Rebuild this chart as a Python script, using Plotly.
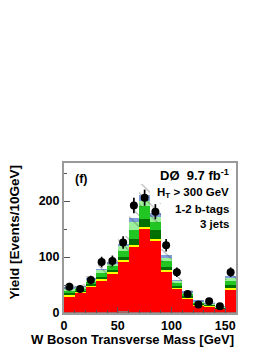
import plotly.graph_objects as go

# bin centres (W transverse mass, GeV), 10 GeV bins, last bin = overflow
bin_centers = [5, 15, 25, 35, 45, 55, 65, 75, 85, 95, 105, 115, 125, 135, 145, 155]
bin_width = 10

# stacked background components (events / bin)
multijet = [2, 2, 2, 2, 2, 4, 2, 2, 2, 2, 1, 1, 1, 1, 1, 2]
red_comp = [28, 34, 44.6, 56.6, 68.6, 87.5, 117.6, 149, 128, 71.5, 42.6, 24.7, 12.8, 11, 6.8, 39.9]
yellow_comp = [2, 2, 1.9, 2.4, 2.4, 2.5, 2.4, 3, 2, 2.5, 1.4, 1.3, 1.2, 1, 0.7, 3.1]
dkgreen_comp = [4, 3, 3.5, 4, 4, 6, 11, 14, 17, 7, 4, 3, 2, 1.5, 1, 5]
green_comp = [5, 3, 5, 7, 7, 10, 16, 24, 13, 10, 5, 4, 2.5, 1.5, 1, 8]
ltgreen_comp = [3, 2.5, 3, 5, 4.5, 11, 14, 9, 9, 7, 3.5, 3, 1.5, 0.7, 0.3, 6]
blue_comp = [1, 1, 1, 1.5, 1.5, 3, 6, 9, 8, 3, 1.1, 0.7, 0.5, 0.3, 0.2, 2]
syst_unc = [5, 5, 6, 8, 9, 13, 18, 21, 18, 11, 6, 4, 2, 2, 1.5, 7]

# data
data_vals = [47, 43, 59, 91, 93, 126, 192, 206, 181, 121, 73, 34, 15, 21, 12, 73]
data_errs = [7, 6.5, 7.7, 9.5, 9.6, 11.2, 13.9, 14.4, 13.5, 11, 8.5, 5.8, 3.9, 4.6, 3.5, 8.5]

components = [
    ("Multijet", multijet, "#a06a6a"),
    ("Red", red_comp, "#ff0000"),
    ("Yellow", yellow_comp, "#ffff00"),
    ("DarkGreen", dkgreen_comp, "#007000"),
    ("Green", green_comp, "#22c622"),
    ("LightGreen", ltgreen_comp, "#9cf09c"),
    ("Blue", blue_comp, "#7f9fdc"),
]

fig = go.Figure()
base = [0.0] * len(bin_centers)
for name, vals, col in components:
    fig.add_trace(go.Bar(
        x=bin_centers, y=vals, base=list(base), width=bin_width,
        marker=dict(color=col, line=dict(width=0)), name=name, showlegend=False,
    ))
    base = [b + v for b, v in zip(base, vals)]
total = base

# hatched uncertainty band
fig.add_trace(go.Bar(
    x=bin_centers, y=[2 * u for u in syst_unc],
    base=[t - u for t, u in zip(total, syst_unc)], width=bin_width,
    marker=dict(color="rgba(0,0,0,0)", line=dict(width=0),
                pattern=dict(shape="\\", fgcolor="rgba(40,40,40,0.85)", bgcolor="rgba(0,0,0,0)",
                             size=8, solidity=0.12)),
    showlegend=False,
))

# data points
fig.add_trace(go.Scatter(
    x=bin_centers, y=data_vals, mode="markers",
    marker=dict(color="black", size=8),
    error_y=dict(type="data", array=data_errs, color="black", thickness=1.7, width=0),
    showlegend=False,
))

font_b = dict(family="Liberation Sans, Arial, sans-serif", size=12, color="black", weight="bold")

fig.update_layout(
    width=270, height=349,
    margin=dict(l=64, r=34, t=163, b=36),
    barmode="overlay", bargap=0,
    paper_bgcolor="white", plot_bgcolor="white",
    font=font_b,
)
fig.update_xaxes(
    range=[0, 160], tickvals=[0, 50, 100, 150], ticks="inside", ticklen=6,
    tickcolor="#555", tickwidth=1,
    minor=dict(dtick=10, tick0=0, ticks="inside", ticklen=3, tickcolor="#555"),
    showline=True, linecolor="#9a9a9a", linewidth=2, mirror=True,
    showgrid=False, zeroline=False, tickfont=dict(size=12.5, weight="bold"),
)
fig.update_yaxes(
    range=[0, 268], tickvals=[0, 100, 200], ticks="inside", ticklen=6,
    tickcolor="#555", tickwidth=1,
    minor=dict(dtick=50, tick0=0, ticks="inside", ticklen=3, tickcolor="#555"),
    showline=True, linecolor="#9a9a9a", linewidth=2, mirror=True,
    showgrid=False, zeroline=False, tickfont=dict(size=12.5, weight="bold"),
)

annots = [
    dict(text="W Boson Transverse Mass [GeV]", x=1, y=-0.175, xanchor="right", yanchor="middle",
         font=dict(size=13, weight="bold")),
    dict(text="Yield [Events/10GeV]", x=-0.29, y=1, xanchor="center", yanchor="top",
         textangle=-90, font=dict(size=13.5, weight="bold")),
    dict(text="DØ  9.7 fb<sup>-1</sup>", x=0.97, y=0.985, xanchor="right", yanchor="top",
         font=dict(size=13, weight="bold")),
    dict(text="H<sub>T</sub> > 300 GeV", x=0.97, y=0.86, xanchor="right", yanchor="top",
         font=dict(size=11.5, weight="bold")),
    dict(text="1-2 b-tags", x=0.97, y=0.745, xanchor="right", yanchor="top",
         font=dict(size=11.5, weight="bold")),
    dict(text="3 jets", x=0.97, y=0.65, xanchor="right", yanchor="top",
         font=dict(size=11.5, weight="bold")),
    dict(text="(f)", x=0.05, y=0.955, xanchor="left", yanchor="top",
         font=dict(size=12.5, weight="bold")),
]
for a in annots:
    fig.add_annotation(xref="paper", yref="paper", showarrow=False, **a)

fig.write_html("out.html", config={"displayModeBar": False},
               post_script="document.body.style.margin='0';document.body.style.overflow='hidden';")
